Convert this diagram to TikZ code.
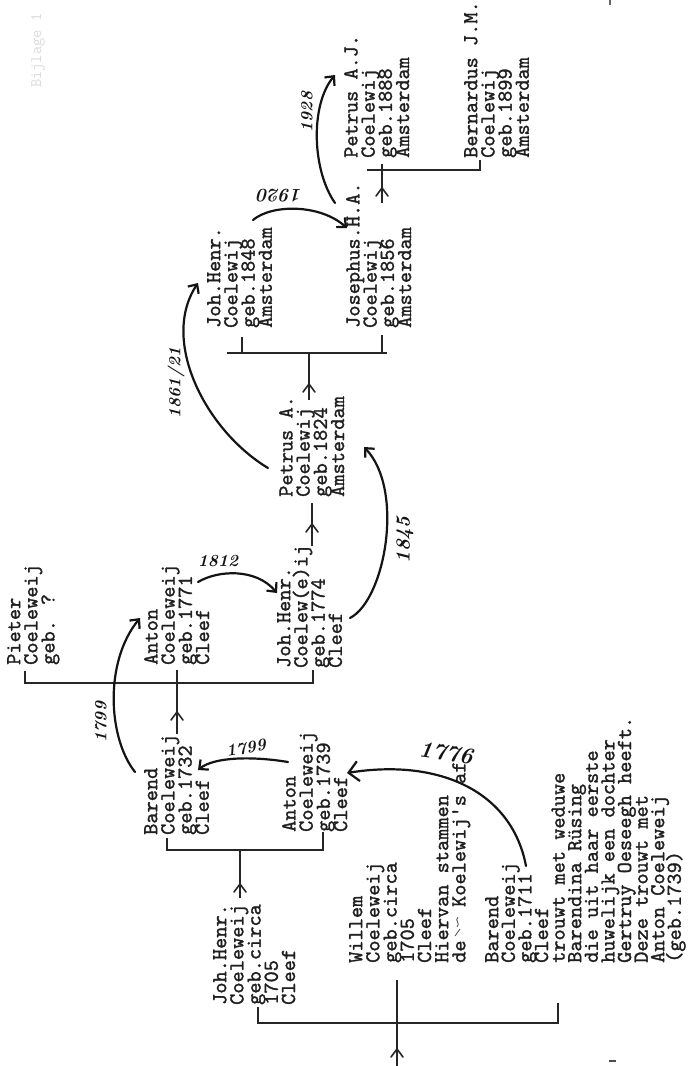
\documentclass[tikz,border=0pt]{standalone}
\usepackage{fontspec}
\newfontfamily\twfont{lmmono10-regular.otf}[FakeBold=1.3]
\usetikzlibrary{arrows.meta}
\begin{document}
\begin{tikzpicture}[x=1pt,y=-1pt,
  typedtext/.style={rotate=90,anchor=north west,inner sep=0pt,align=left,
    font={\fontsize{21.3}{17.2}\selectfont\twfont\lineskiplimit=-100pt\lineskip=0pt},text=black!88},
  bline/.style={line width=1.6pt,draw=black!85},
  handarrow/.style={line width=2.2pt,line cap=round,draw=black!92,
    -{Straight Barb[length=7pt,width=13pt]}},
  bigarrow/.style={handarrow,-{Straight Barb[length=10pt,width=20pt]}},
  handlbl/.style={inner sep=0pt,text=black!92,font=\fontsize{17}{17}\selectfont\bfseries\itshape},
  chevron/.pic={\draw[bline,line cap=round] (-6,8) -- (0,0) -- (6,8);}
]
\fill[white] (0,0) rectangle (691,1066);
\useasboundingbox (0,0) rectangle (691,1066);

% faint show-through text at top left
\node[rotate=90,anchor=north west,inner sep=0pt,text=black!14,
  font=\fontsize{16}{16}\selectfont\ttfamily] (faint) at (31,88) {Bijlage 1};

% ---------- text blocks ----------
\node[typedtext] (jh1705) at (213,1005) {Joh.Henr.\\Coeleweij\\geb.circa\\1705\\Cleef};
\node[typedtext] (w1705) at (349,963) {Willem\\Coeleweij\\geb.circa\\1705\\Cleef\\Hiervan stammen\\de\ \ \ Koelewij\textquotesingle s af.};
\node[typedtext,font={\fontsize{21.3}{16.6}\selectfont\twfont\lineskiplimit=-100pt\lineskip=0pt}] (b1711) at (485,963) {Barend\\Coeleweij\\geb.1711\\Cleef\\trouwt met weduwe\\Barendina R\"using\\die uit haar eerste\\huwelijk een dochter\\Gertruy Oeseegh heeft.\\Deze trouwt met\\Anton Coeleweij\\(geb.1739)};

\node[typedtext] (b1732) at (144,835) {Barend\\Coeleweij\\geb.1732\\Cleef};
\node[typedtext] (a1739) at (282,832) {Anton\\Coeleweij\\geb.1739\\Cleef};

\node[typedtext] (p) at (7,665) {Pieter\\Coeleweij\\geb. ?};
\node[typedtext] (a1771) at (144,665) {Anton\\Coeleweij\\geb.1771\\Cleef};
\node[typedtext] (jh1774) at (277,668) {Joh.Henr.\\Coelew(e)ij\\geb.1774\\Cleef};

\node[typedtext] (pa1824) at (279,497) {Petrus A.\\Coelewij\\geb.1824\\Amsterdam};

\node[typedtext] (jh1848) at (207,328) {Joh.Henr.\\Coelewij\\geb.1848\\Amsterdam};
\node[typedtext] (jos) at (346,328) {Josephus.H.A.\\Coelewij\\geb.1856\\Amsterdam};

\node[typedtext] (paj) at (344,158) {Petrus A.J.\\Coelewij\\geb.1888\\Amsterdam};
\node[typedtext] (bjm) at (464,158) {Bernardus J.M.\\Coelewij\\geb.1899\\Amsterdam};

% small handwritten mark in "de .. Koelewij's"
\draw[line width=0.8pt,black!70] (455,936) -- (460,929) (457,927) .. controls (461,923) and (454,921) .. (458,917);
% small stray typed marks
\coordinate (m1a) at (609,1061); \coordinate (m1b) at (616,1061);
\draw[line width=1.2pt,black!70] (m1a) -- (m1b);
\coordinate (m2a) at (610,0); \coordinate (m2b) at (610,5);
\draw[line width=1.2pt,black!60] (m2a) -- (m2b);

% ---------- typed brackets and arrows ----------
\coordinate (r0b) at (397,1066); \coordinate (r0t) at (397,980);
\coordinate (k0a) at (258,1007); \coordinate (k0b) at (258,1023);
\coordinate (k0c) at (558,1023); \coordinate (k0d) at (558,1003);
\draw[bline] (k0a) -- (k0b) -- (k0c) -- (k0d);
\draw[bline] (r0b) -- (r0t);
\pic at (397,1049) {chevron};

\coordinate (r1b) at (240,898); \coordinate (r1t) at (240,850);
\coordinate (k1a) at (167,838); \coordinate (k1b) at (167,850);
\coordinate (k1c) at (323,850); \coordinate (k1d) at (323,832);
\draw[bline] (k1a) -- (k1b) -- (k1c) -- (k1d);
\draw[bline] (r1b) -- (r1t);
\pic at (240,884) {chevron};

\coordinate (r2b) at (177,734); \coordinate (r2t) at (177,670);
\coordinate (k2a) at (25,671); \coordinate (k2b) at (25,683);
\coordinate (k2c) at (313,683); \coordinate (k2d) at (313,670);
\draw[bline] (k2a) -- (k2b) -- (k2c) -- (k2d);
\draw[bline] (r2b) -- (r2t);
\pic at (177,712) {chevron};

\coordinate (r3b) at (312,546); \coordinate (r3t) at (312,503);
\draw[bline] (r3b) -- (r3t);
\pic at (312,524) {chevron};

\coordinate (r4b) at (309,400); \coordinate (r4t) at (309,353);
\coordinate (k4a) at (242,337); \coordinate (k4b) at (242,353);
\coordinate (k4l) at (227,353); \coordinate (k4r) at (387,353);
\coordinate (k4c) at (382,353); \coordinate (k4d) at (382,335);
\draw[bline] (k4l) -- (k4r);
\draw[bline] (k4a) -- (k4b) (k4c) -- (k4d);
\draw[bline] (r4b) -- (r4t);
\pic at (309,384) {chevron};

\coordinate (r5b) at (382,203); \coordinate (r5t) at (382,164);
\coordinate (k5l) at (367,170); \coordinate (k5r) at (480,170);
\coordinate (k5d) at (480,160);
\draw[bline] (k5l) -- (k5r) -- (k5d);
\draw[bline] (r5b) -- (r5t);
\pic at (382,188) {chevron};

% ---------- handwritten arrows ----------
\coordinate (h1s) at (526,866); \coordinate (h1e) at (347,773);
\draw[bigarrow] (h1s) .. controls (512,792) and (440,758) .. (h1e);
\node[handlbl,font=\fontsize{23}{23}\selectfont\bfseries\itshape,rotate=-8] (l1776) at (446,753) {1776};

\coordinate (h2s) at (288,762); \coordinate (h2e) at (198,770);
\draw[handarrow] (h2s) .. controls (252,756) and (214,757) .. (h2e);
\node[handlbl,rotate=10] (l1799a) at (246,748) {1799};

\coordinate (h3s) at (135,772); \coordinate (h3e) at (140,618);
\draw[handarrow] (h3s) .. controls (108,738) and (104,662) .. (h3e);
\node[handlbl,rotate=90] (l1799b) at (101,722) {1799};

\coordinate (h4s) at (198,582); \coordinate (h4e) at (277,593);
\draw[handarrow] (h4s) .. controls (218,570) and (256,568) .. (h4e);
\node[handlbl] (l1812) at (218,561) {1812};

\coordinate (h5s) at (350,618); \coordinate (h5e) at (364,447);
\draw[handarrow] (h5s) .. controls (385,600) and (405,490) .. (h5e);
\node[handlbl,font=\fontsize{20}{20}\selectfont\bfseries\itshape,rotate=90] (l1845) at (405,540) {1845};

\coordinate (h6s) at (268,468); \coordinate (h6e) at (198,283);
\draw[handarrow] (h6s) .. controls (205,430) and (160,340) .. (h6e);
\node[handlbl,rotate=90] (l1861) at (176,383) {1861/21};

\coordinate (h7s) at (253,220); \coordinate (h7e) at (347,228);
\draw[handarrow] (h7s) .. controls (272,204) and (320,204) .. (h7e);
\node[handlbl,font=\fontsize{19}{19}\selectfont\bfseries\itshape,rotate=180] (l1920) at (280,196) {1920};

\coordinate (h8s) at (335,203); \coordinate (h8e) at (335,75);
\draw[handarrow] (h8s) .. controls (312,170) and (310,105) .. (h8e);
\node[handlbl,rotate=90] (l1928) at (307,112) {1928};
\end{tikzpicture}
\end{document}
